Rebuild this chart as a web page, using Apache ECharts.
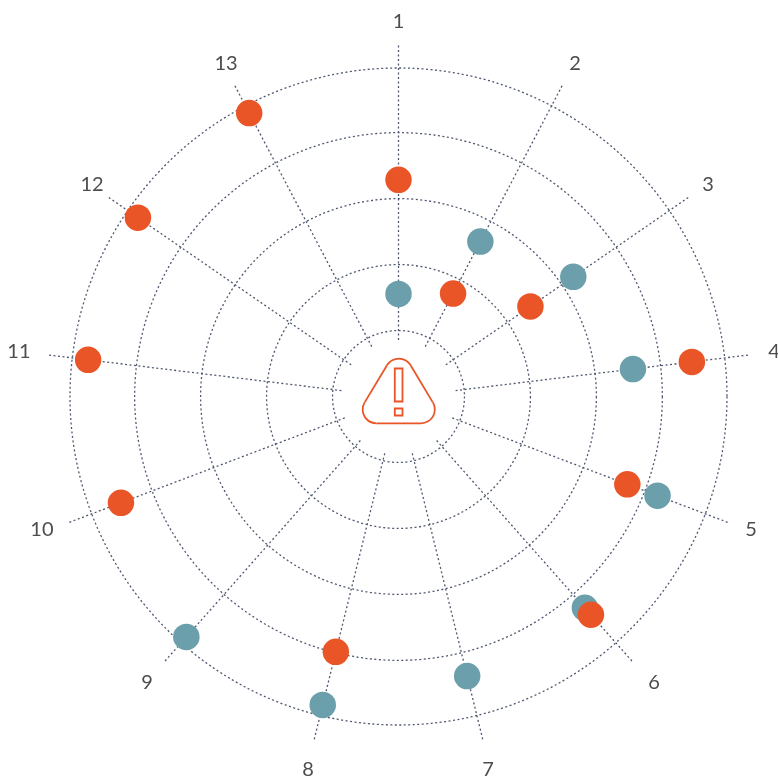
<!DOCTYPE html>
<html><head><meta charset="utf-8">
<style>html,body{margin:0;padding:0;background:#fff}#c{width:778px;height:776px}</style>
<script src="https://cdn.jsdelivr.net/npm/echarts@6/dist/echarts.min.js"></script>
</head><body><div id="c"></div>
<script>
const categories = ['1','2','3','4','5','6','7','8','9','10','11','12','13'];
const tealValues = [1.57,2.67,3.22,3.58,4.20,4.26,4.35,4.80,4.85,null,null,null,null];
const orangeValues = [3.30,1.78,2.43,4.48,3.71,4.40,null,3.97,null,4.50,4.74,4.80,4.87];
const ringMax = 4.98;
const ringStep = 1;
const labelRadius = 5.716;
const labelOffsets = [[0,1.5],[1.3,0.3],[-0.8,1.7],[1.3,-1],[0,-1.2],[5.5,3.3],[-0.7,5.5],[-0.3,5.5],[-1.5,3.3],[-4,-1.2],[-5.3,-1],[3.8,1.7],[2.7,0.3]];
const LINE = '#4f5870', TEAL = '#6a9fab', ORANGE = '#ea5527';
const RING_CENTER = [398.5, 396.5];
const SPOKE_CENTER = [398.5, 397.5];
const toPairs = vals => vals.map((v,i)=> v==null ? null : [v, i]).filter(Boolean);
const chart = echarts.init(document.getElementById('c'), null, {renderer:'canvas'});
const dash = {color:LINE, width:1.3, type:[2,2.5]};
const iconStyle = {fill:'none',stroke:ORANGE,lineWidth:1.8};
const arc = (cx,cy,r,a,b)=>({type:'arc',z:10,shape:{cx,cy,r,startAngle:a,endAngle:b,clockwise:true},style:iconStyle});
const seg = (x1,y1,x2,y2)=>({type:'line',z:10,shape:{x1,y1,x2,y2},style:iconStyle});
const hiddenRadius = (polarIndex,max)=>({polarIndex,type:'value',min:0,max,show:false});
const hiddenAngle = polarIndex=>({polarIndex,type:'value',min:0,max:categories.length,startAngle:90,clockwise:true,show:false,
  axisLine:{show:false},axisTick:{show:false},axisLabel:{show:false},splitLine:{show:false}});
chart.setOption({
  animation:false,
  backgroundColor:'#fff',
  polar:[
    {center:RING_CENTER, radius:[0,328.5]},
    {center:SPOKE_CENTER, radius:[57.5,352]},
    {center:SPOKE_CENTER, radius:[0,328.5]}
  ],
  radiusAxis:[
    {polarIndex:0,type:'value',min:0,max:ringMax,interval:ringStep,
     axisLine:{show:false},axisTick:{show:false},axisLabel:{show:false},
     splitLine:{show:true,lineStyle:dash}},
    hiddenRadius(1,1),
    hiddenRadius(2,ringMax)
  ],
  angleAxis:[
    hiddenAngle(0),
    {polarIndex:1,type:'category',data:categories,boundaryGap:false,startAngle:90,clockwise:true,
     axisLine:{show:false},axisTick:{show:false},axisLabel:{show:false},
     splitLine:{show:true,interval:0,lineStyle:dash}},
    hiddenAngle(2)
  ],
  series:[
    {type:'scatter',name:'teal',coordinateSystem:'polar',polarIndex:2,data:toPairs(tealValues),
     symbol:'circle',symbolSize:26.5,itemStyle:{color:TEAL,opacity:1},z:5},
    {type:'scatter',name:'orange',coordinateSystem:'polar',polarIndex:2,data:toPairs(orangeValues),
     symbol:'circle',symbolSize:26.5,itemStyle:{color:ORANGE,opacity:1},z:6},
    {type:'scatter',name:'labels',coordinateSystem:'polar',polarIndex:2,clip:false,silent:true,z:7,
     symbol:'circle',symbolSize:1,itemStyle:{color:'rgba(0,0,0,0)',opacity:1},
     data:categories.map((c,i)=>({value:[labelRadius,i],
       label:{show:true,position:'inside',align:'center',verticalAlign:'middle',offset:labelOffsets[i],
         formatter:c,color:'#4d4d4d',fontFamily:'Lato',fontWeight:400,fontSize:20,opacity:1}}))}
  ],
  graphic:{elements:[
    arc(398.8,372.4,13.8,3.682,5.743),
    seg(410.6,365.3,432.8,402.4),
    arc(421,409.5,13.8,-0.54,Math.PI/2),
    seg(421,423.3,376.5,423.3),
    arc(376.5,409.5,13.8,Math.PI/2,3.682),
    seg(364.7,402.4,387,365.3),
    {type:'rect',z:10,shape:{x:394.8,y:368.5,width:7.7,height:33},style:iconStyle},
    {type:'rect',z:10,shape:{x:394.8,y:408.5,width:7.7,height:7},style:iconStyle}
  ]}
});
</script></body></html>
